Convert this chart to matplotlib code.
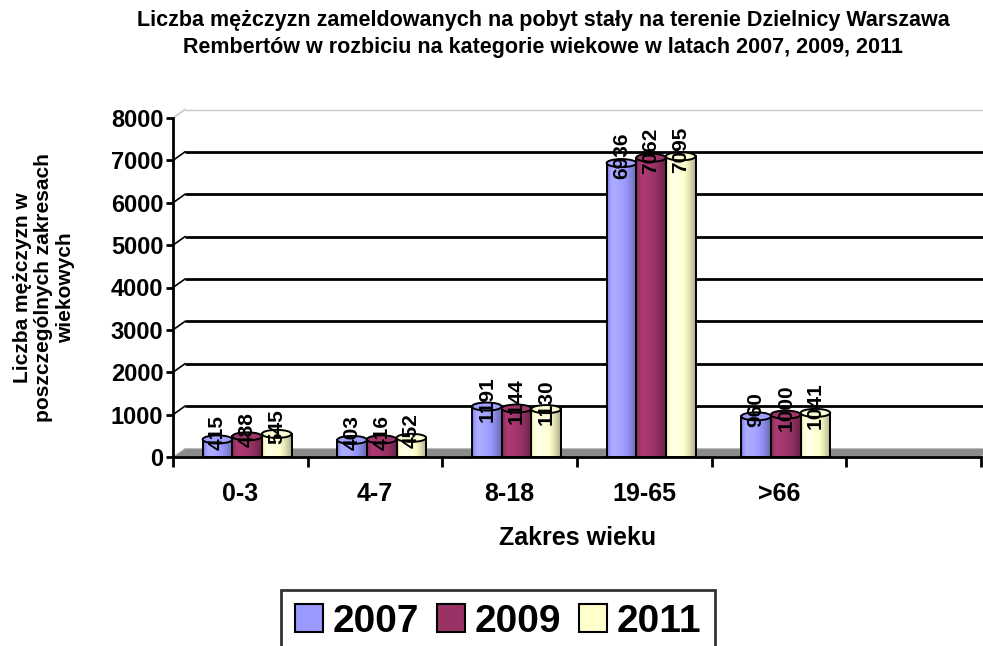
import numpy as np
import matplotlib
matplotlib.use("Agg")
import matplotlib.pyplot as plt
from matplotlib import transforms
from matplotlib.patches import Rectangle, Ellipse, Polygon
from matplotlib.colors import to_rgb

categories = ["0-3", "4-7", "8-18", "19-65", ">66"]
years = ["2007", "2009", "2011"]
v2007 = [415, 403, 1191, 6936, 960]
v2009 = [488, 416, 1144, 7062, 1000]
v2011 = [545, 452, 1130, 7095, 1041]
colors = ["#9999FF", "#993366", "#FFFFCC"]
yticks = [0, 1000, 2000, 3000, 4000, 5000, 6000, 7000, 8000]

plt.rcParams['font.family'] = ['Liberation Sans', 'DejaVu Sans']
plt.rcParams['font.weight'] = 'bold'

fig = plt.figure(figsize=(9.83, 6.46), dpi=100)
ax = fig.add_axes([173/983, 1-457/646, (981-173)/983, (457-118)/646])
nslots = len(categories) + 1
ax.set_xlim(-0.5, nslots - 0.5)
ax.set_ylim(0, 8000)

# 3D-like back wall offsets
dx, dy = 12/100, 8.5/100
off = transforms.ScaledTranslation(dx, dy, fig.dpi_scale_trans)
ytr = ax.get_yaxis_transform()
trans_back = ytr + off
axw_px = (981-173)
frac_end = 1 - 2/axw_px

# floor
pts_front = ytr.transform([[0, 0], [1, 0]])
pts_back = trans_back.transform([[0, 0], [frac_end, 0]])
poly_px = np.array([pts_front[0], pts_front[1], pts_back[1], pts_back[0]])
ax.add_patch(Polygon(ax.transAxes.inverted().transform(poly_px), closed=True,
                     transform=ax.transAxes, facecolor="#8c8c8c",
                     edgecolor="#bdbdbd", lw=0.8, zorder=1, clip_on=False))

# gridlines on back wall
for v in yticks[1:]:
    col = "#c8c8c8" if v == yticks[-1] else "black"
    lw = 1.0 if v == yticks[-1] else 2.0
    ax.plot([0, frac_end], [v, v], transform=trans_back, color=col, lw=lw,
            zorder=2, clip_on=False, solid_capstyle='butt')
    p0 = ytr.transform([0, v])
    p1 = trans_back.transform([0, v])
    pp = ax.transAxes.inverted().transform([p0, p1])
    ax.plot(pp[:, 0], pp[:, 1], transform=ax.transAxes, color=col, lw=1.2,
            zorder=2, clip_on=False)

# bars
width = 0.22
shift = 0.05
x = np.arange(len(categories))
series = [v2007, v2009, v2011]
grad_x = np.linspace(0, 1, 64)
shade = 1.12 - 0.45 * (grad_x - 0.2) ** 2 / 0.64
shade = np.where(grad_x < 0.2, 1.12 - 0.35 * ((0.2 - grad_x) / 0.2) ** 2, shade)
cap_h = 190
for k, (vals, c) in enumerate(zip(series, colors)):
    base = np.array(to_rgb(c))
    img = np.clip(base[None, None, :] * shade[None, :, None], 0, 1)
    for i, v in enumerate(vals):
        x0 = x[i] + shift + (k - 1) * width - width / 2
        rect = Rectangle((x0, 0), width, v, facecolor='none', edgecolor='black',
                         lw=1.4, zorder=4)
        ax.add_patch(rect)
        im = ax.imshow(img, extent=[x0, x0 + width, 0, v], aspect='auto',
                       zorder=3, interpolation='bilinear')
        im.set_clip_path(rect)
        top = Ellipse((x0 + width / 2, v), width, cap_h,
                      facecolor=np.clip(base * 1.05, 0, 1), edgecolor='black',
                      lw=1.4, zorder=5)
        ax.add_patch(top)
        ax.text(x0 + width / 2, v + 165, str(v), rotation=90, ha='center',
                va='center', fontsize=15, fontweight='bold', zorder=6)

ax.set_xlim(-0.5, nslots - 0.5)
ax.set_ylim(0, 8000)

# axes styling
for s in ["top", "right"]:
    ax.spines[s].set_visible(False)
ax.spines["left"].set_linewidth(2)
ax.spines["bottom"].set_linewidth(2)
ax.spines["left"].set_zorder(7)
ax.spines["bottom"].set_zorder(7)
ax.set_yticks(yticks)
ax.set_yticklabels([str(t) for t in yticks], fontsize=17, fontweight='bold')
ax.tick_params(axis='y', length=5, width=2, pad=2)
ax.set_xticks(np.arange(-0.5, nslots, 1.0))
ax.set_xticklabels([])
ax.tick_params(axis='x', which='major', length=7, width=2, direction='out')
ax.set_xticks(x, minor=True)
ax.set_xticklabels(categories, minor=True, fontsize=18, fontweight='bold')
ax.tick_params(axis='x', which='minor', length=0, pad=18)
ax.patch.set_alpha(0)

fig.text(578/983, 1-538/646, "Zakres wieku", ha='center', va='center',
         fontsize=18, fontweight='bold')
fig.text(44/983, 1-288/646, "Liczba mężczyzn w\nposzczególnych zakresach\nwiekowych",
         rotation=90, ha='center', va='center', fontsize=15, fontweight='bold',
         linespacing=1.15)

fig.text(543/983, 1-34/646,
         "Liczba mężczyzn zameldowanych na pobyt stały na terenie Dzielnicy Warszawa\n"
         "Rembertów w rozbiciu na kategorie wiekowe w latach 2007, 2009, 2011",
         ha='center', va='center', fontsize=15.5, fontweight='bold', linespacing=1.4)

handles = [Rectangle((0, 0), 1, 1, facecolor=c, edgecolor='black', lw=1.5) for c in colors]
leg = fig.legend(handles, years, loc='upper center', bbox_to_anchor=(498/983, 1-590/646),
                 ncol=3, fontsize=28, frameon=True, fancybox=False, handlelength=0.72,
                 handleheight=0.72, handletextpad=0.25, columnspacing=0.45, borderpad=0.35,
                 borderaxespad=0)
leg.get_frame().set_edgecolor('black')
leg.get_frame().set_linewidth(2)
for t in leg.get_texts():
    t.set_fontweight('bold')

fig.savefig("out.png", dpi=100)
